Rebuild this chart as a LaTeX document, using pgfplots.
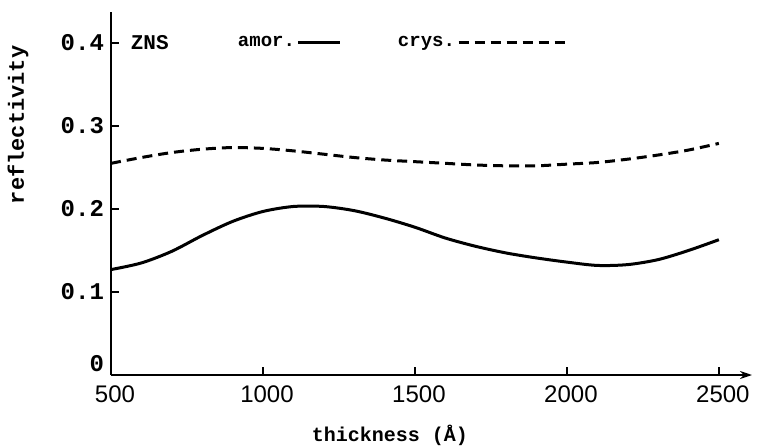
\documentclass[border=0pt]{standalone}
\usepackage{fontspec}
\setmonofont{Liberation Mono}
\newfontfamily\numfont{Liberation Sans}
\usepackage{pgfplots}
\pgfplotsset{compat=1.18}
\usetikzlibrary{arrows.meta}

% reflectivity vs film thickness
\pgfplotstableread{
t     amor   crys
500   0.127  0.255
600   0.135  0.262
700   0.149  0.268
800   0.168  0.272
900   0.185  0.274
1000  0.197  0.273
1100  0.203  0.270
1200  0.203  0.266
1300  0.198  0.262
1400  0.189  0.259
1500  0.178  0.257
1600  0.165  0.255
1700  0.155  0.253
1800  0.147  0.252
1900  0.141  0.252
2000  0.136  0.254
2100  0.132  0.256
2200  0.133  0.260
2300  0.139  0.265
2400  0.150  0.271
2500  0.163  0.279
}\refl

\begin{document}
\begin{tikzpicture}
\path[use as bounding box] (0,0) rectangle (387pt,-224pt);
\begin{axis}[
  at={(55.5pt,-187.5pt)}, anchor=south west,
  scale only axis, width=320.5pt, height=181.5pt,
  xmin=500, xmax=2609, ymin=0, ymax=0.4373,
  axis lines=left,
  x axis line style={line width=1.2pt,-{Stealth[length=6pt,width=4pt]}},
  y axis line style={line width=1.2pt,-},
  tick align=inside, major tick length=4pt,
  tick style={line width=1pt,black},
  xtick={500,1000,...,2500},
  xticklabels={500,1000,1500,2000,2500},
  xticklabel style={font=\numfont\fontsize{12}{12}\selectfont,yshift=-2pt,xshift=2pt},
  ytick={0,0.1,0.2,0.3,0.4},
  yticklabels={\raisebox{12pt}{0},0.1,0.2,0.3,0.4},
  yticklabel style={font=\ttfamily\bfseries\fontsize{12}{12}\selectfont},
  xlabel={thickness (Å)},
  xlabel style={at={(axis description cs:0.435,-0.165)},anchor=center,
                font=\ttfamily\bfseries\fontsize{10}{10}\selectfont},
  ylabel={reflectivity},
  ylabel style={at={(axis description cs:-0.145,0.689)},anchor=center,
                font=\ttfamily\bfseries\fontsize{11}{11}\selectfont},
  legend plot pos=right,
  legend columns=-1,
  legend style={at={(axis description cs:0.185,0.915)},anchor=west,
                draw=none,fill=none,font=\ttfamily\bfseries\fontsize{9.5}{9.5}\selectfont,
                nodes={inner xsep=1pt},
                /tikz/column 2/.style={column sep=27pt}},
]
  \addplot[black,line width=1.5pt,smooth,
    legend image code/.code={\draw[black,line width=1.5pt] (0pt,0pt) -- (21pt,0pt);}]
    table[x=t,y=amor] {\refl};
  \addlegendentry{amor.}
  \addplot[black,line width=1.5pt,smooth,dash pattern=on 5pt off 3pt,
    legend image code/.code={\draw[black,line width=1.5pt,dash pattern=on 5pt off 3pt] (0pt,0pt) -- (55pt,0pt);}]
    table[x=t,y=crys] {\refl};
  \addlegendentry{crys.}
  \node[anchor=west,font=\ttfamily\bfseries\fontsize{10.5}{10.5}\selectfont]
    at (axis description cs:0.02,0.915) {ZNS};
\end{axis}
\end{tikzpicture}
\end{document}
